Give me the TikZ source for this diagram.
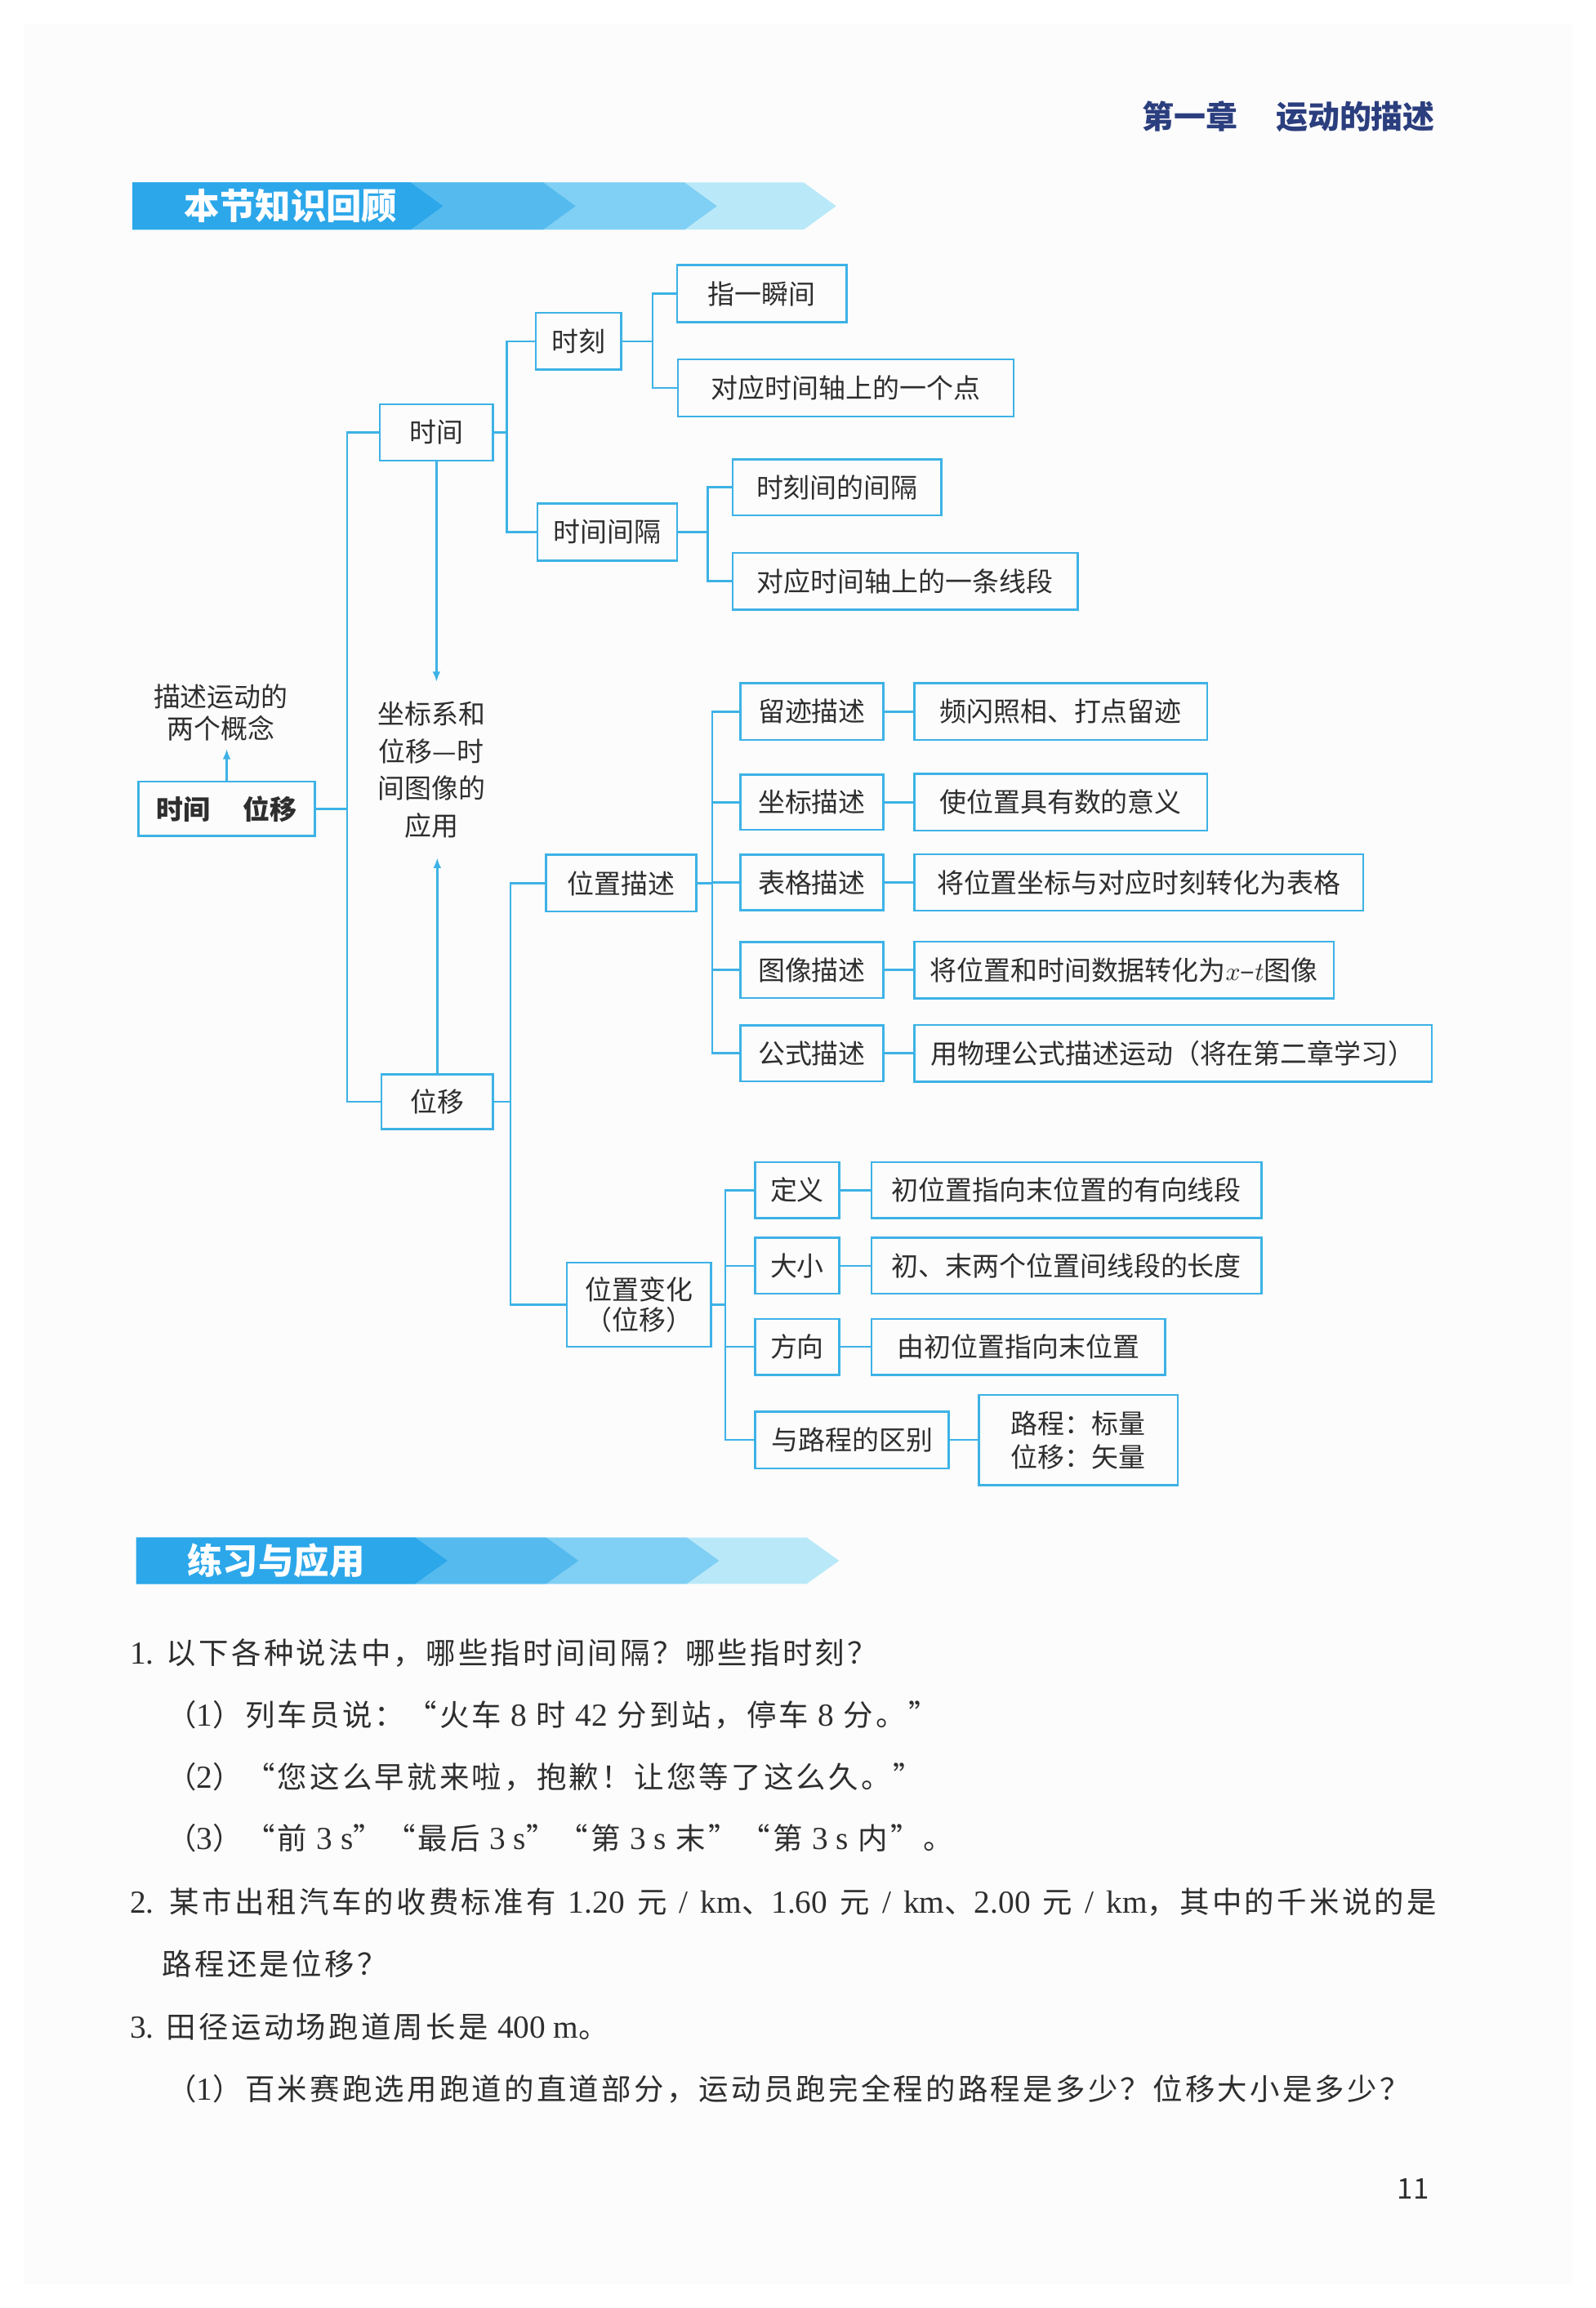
\documentclass[tikz,border=0pt]{standalone}
\usepackage{fontspec}
\setmainfont{Noto Sans CJK SC}
\newfontfamily\uebung[LetterSpace=9]{Noto Sans CJK SC}
\newfontfamily\zahl[Scale=1.08]{Liberation Serif}
\usetikzlibrary{arrows.meta}

\definecolor{linie}{HTML}{3DB2E6}
\definecolor{schrift}{HTML}{2E2E2E}
\definecolor{kopf}{HTML}{2B3E7E}
\definecolor{band1}{HTML}{2CA7EA}
\definecolor{band2}{HTML}{55BBEF}
\definecolor{band3}{HTML}{80CFF4}
\definecolor{band4}{HTML}{B9E9F9}
\definecolor{seite}{HTML}{FCFCFC}

\begin{document}
\begin{tikzpicture}[x=0.02cm, y=-0.02cm,
    kasten/.style={draw=linie, line width=0.8pt, text=schrift, minimum height=0.77cm, inner sep=0pt, align=center, font=\fontsize{10.4pt}{12.5pt}\selectfont},
    ast/.style={draw=linie, line width=0.8pt},
    pfeil/.style={ast, -{Latex[length=1.4mm,width=1.1mm]}},
    aufgabe/.style={anchor=west, inner sep=0pt, text=schrift, font=\uebung\fontsize{11.5pt}{14pt}\selectfont}]
    \useasboundingbox (0,0) rectangle (1084,1568);
    \fill[white] (0,0) rectangle (1084,1568);
    \fill[seite] (16,16) rectangle (1068,1552); % Seite
    % Kopfzeile:
    \node[anchor=east, text=kopf, font=\bfseries\fontsize{12.3pt}{14pt}\selectfont] (kopf) at (981,79) {第一章\hspace{1.2em}运动的描述};
    % erstes Band:
    \fill[band4] (90,124) -- (546,124) -- (568,140) -- (546,156) -- (90,156) -- cycle;
    \fill[band3] (90,124) -- (465,124) -- (487,140) -- (465,156) -- (90,156) -- cycle;
    \fill[band2] (90,124) -- (369,124) -- (391,140) -- (369,156) -- (90,156) -- cycle;
    \fill[band1] (90,124) -- (279,124) -- (301,140) -- (279,156) -- (90,156) -- cycle;
    \node[anchor=west, inner sep=0pt, text=white, font=\bfseries\fontsize{13.7pt}{15pt}\selectfont] (band1text) at (125,140) {本节知识回顾};

    % linke Seite:
    \node[kasten, minimum width=2.4cm, minimum height=0.74cm, font=\bfseries\fontsize{10.4pt}{12.5pt}\selectfont] (begriffe) at (154,549.5) {时间\hspace{1.2em}位移};
    \node[align=center, inner sep=0.1cm, text=schrift, font=\fontsize{10.4pt}{12.5pt}\selectfont] (zweibegriffe) at (150,484) {描述运动的\\两个概念};
    \node[align=center, inner xsep=0pt, inner ysep=0.26cm, text=schrift, font=\fontsize{10.4pt}{14.4pt}\selectfont] (anwendung) at (293,523) {坐标系和\\位移—时\\间图像的\\应用};
    \node[kasten, minimum width=1.54cm] (zeit) at (296.5,293.8) {时间};
    \node[kasten, minimum width=1.52cm, minimum height=0.74cm] (weg) at (297,748.5) {位移};

    % Zeit-Ast:
    \node[kasten, minimum width=1.16cm] (moment) at (393,231.8) {时刻};
    \node[kasten, minimum width=2.3cm, minimum height=0.78cm] (m1) at (517.5,199.5) {指一瞬间};
    \node[kasten, minimum width=4.56cm, minimum height=0.78cm] (m2) at (574.5,263.5) {对应时间轴上的一个点};
    \node[kasten, minimum width=1.9cm, minimum height=0.78cm] (intervall) at (412.5,361.5) {时间间隔};
    \node[kasten, minimum width=2.84cm, minimum height=0.76cm] (i1) at (568.6,331) {时刻间的间隔};
    \node[kasten, minimum width=4.69cm, minimum height=0.77cm] (i2) at (614.8,394.8) {对应时间轴上的一条线段};

    % Ort-Ast:
    \node[kasten, minimum width=2.04cm] (ort) at (422,600) {位置描述};
    \node[kasten, minimum width=1.94cm] (ort1) at (551.5,483.5) {留迹描述};
    \node[kasten, minimum width=3.98cm] (d1) at (720.5,483.5) {频闪照相、打点留迹};
    \node[kasten, minimum width=1.94cm, minimum height=0.75cm] (ort2) at (551.5,545) {坐标描述};
    \node[kasten, minimum width=3.98cm] (d2) at (720.5,545) {使位置具有数的意义};
    \node[kasten, minimum width=1.94cm, minimum height=0.76cm] (ort3) at (551.5,599.5) {表格描述};
    \node[kasten, minimum width=6.1cm] (d3) at (773.5,599.5) {将位置坐标与对应时刻转化为表格};
    \node[kasten, minimum width=1.94cm, minimum height=0.76cm] (ort4) at (551.5,659) {图像描述};
    \node[kasten, minimum width=5.7cm] (d4) at (763.5,659) {将位置和时间数据转化为$x$–$t$图像};
    \node[kasten, minimum width=1.94cm, minimum height=0.76cm] (ort5) at (551.5,715.5) {公式描述};
    \node[kasten, minimum width=7.03cm] (d5) at (796.8,715.5) {用物理公式描述运动（将在第二章学习）};

    % Ortsaenderung:
    \node[kasten, minimum width=1.96cm, minimum height=1.14cm, font=\fontsize{10.4pt}{11.8pt}\selectfont] (aend) at (434,886.4) {位置变化\\（位移）};
    \node[kasten, minimum width=1.14cm, minimum height=0.76cm] (aend1) at (541.5,808.6) {定义};
    \node[kasten, minimum width=5.3cm, minimum height=0.76cm] (e1) at (724.5,808.6) {初位置指向末位置的有向线段};
    \node[kasten, minimum width=1.14cm, minimum height=0.76cm] (aend2) at (541.5,860) {大小};
    \node[kasten, minimum width=5.3cm, minimum height=0.76cm] (e2) at (724.5,860) {初、末两个位置间线段的长度};
    \node[kasten, minimum width=1.14cm, minimum height=0.76cm] (aend3) at (541.5,915) {方向};
    \node[kasten, minimum width=3.99cm, minimum height=0.76cm] (e3) at (691.8,915) {由初位置指向末位置};
    \node[kasten, minimum width=2.63cm, minimum height=0.77cm] (aend4) at (578.8,978.3) {与路程的区别};
    \node[kasten, minimum width=2.7cm, minimum height=1.23cm, font=\fontsize{10.4pt}{13pt}\selectfont] (e4) at (732.5,978.3) {路程：标量\\位移：矢量};

    % Verbindungen:
    \draw[ast] (begriffe.east) -- ++(21,0) |- (zeit.west);
    \draw[ast] (begriffe.east) -- ++(21,0) |- (weg.west);
    \draw[ast] (zeit.east) -- ++(8.5,0) |- (moment.west);
    \draw[ast] (zeit.east) -- ++(8.5,0) |- (intervall.west);
    \draw[ast] (moment.east) -- ++(20.7,0) |- (m1.west);
    \draw[ast] (moment.east) -- ++(20.7,0) |- (m2.west);
    \draw[ast] (intervall.east) -- ++(20,0) |- (i1.west);
    \draw[ast] (intervall.east) -- ++(20,0) |- (i2.west);
    \draw[ast] (weg.east) -- ++(11,0) |- (ort.west);
    \draw[ast] (weg.east) -- ++(11,0) |- (aend.west);
    \draw[ast] (ort.east) -- ++(10,0) |- (ort1.west);
    \draw[ast] (ort.east) -- ++(10,0) |- (ort2.west);
    \draw[ast] (ort.east) -- ++(10,0) |- (ort3.west);
    \draw[ast] (ort.east) -- ++(10,0) |- (ort4.west);
    \draw[ast] (ort.east) -- ++(10,0) |- (ort5.west);
    \draw[ast] (ort1.east) -- (d1.west);
    \draw[ast] (ort2.east) -- (d2.west);
    \draw[ast] (ort3.east) -- (d3.west);
    \draw[ast] (ort4.east) -- (d4.west);
    \draw[ast] (ort5.east) -- (d5.west);
    \draw[ast] (aend.east) -- ++(9,0) |- (aend1.west);
    \draw[ast] (aend.east) -- ++(9,0) |- (aend2.west);
    \draw[ast] (aend.east) -- ++(9,0) |- (aend3.west);
    \draw[ast] (aend.east) -- ++(9,0) |- (aend4.west);
    \draw[ast] (aend1.east) -- (e1.west);
    \draw[ast] (aend2.east) -- (e2.west);
    \draw[ast] (aend3.east) -- (e3.west);
    \draw[ast] (aend4.east) -- (e4.west);
    % Pfeile:
    \draw[pfeil] (begriffe.north) -- (begriffe.north |- zweibegriffe.south);
    \draw[pfeil] (zeit.south) -- (zeit.south |- anwendung.north);
    \draw[pfeil] (weg.north) -- (weg.north |- anwendung.south);

    % zweites Band:
    \fill[band4] (92.6,1044.5) -- (548,1044.5) -- (570,1060.3) -- (548,1076) -- (92.6,1076) -- cycle;
    \fill[band3] (92.6,1044.5) -- (466.5,1044.5) -- (488.5,1060.3) -- (466.5,1076) -- (92.6,1076) -- cycle;
    \fill[band2] (92.6,1044.5) -- (371,1044.5) -- (393,1060.3) -- (371,1076) -- (92.6,1076) -- cycle;
    \fill[band1] (92.6,1044.5) -- (282,1044.5) -- (304,1060.3) -- (282,1076) -- (92.6,1076) -- cycle;
    \node[anchor=west, inner sep=0pt, text=white, font=\bfseries\fontsize{13.7pt}{15pt}\selectfont] (band2text) at (127,1060.3) {练习与应用};

    % Aufgaben:
    \node[aufgabe] (a1) at (88,1123) {{\zahl 1.} 以下各种说法中，哪些指时间间隔？哪些指时刻？};
    \node[aufgabe] (a11) at (113,1165) {（{\zahl 1}）列车员说：“火车 {\zahl 8} 时 {\zahl 42} 分到站，停车 {\zahl 8} 分。”};
    \node[aufgabe] (a12) at (113,1207) {（{\zahl 2}）“您这么早就来啦，抱歉！让您等了这么久。”};
    \node[aufgabe] (a13) at (113,1249) {（{\zahl 3}）“前 {\zahl 3 s}”“最后 {\zahl 3 s}”“第 {\zahl 3 s} 末”“第 {\zahl 3 s} 内”。};
    \node[aufgabe] (a2) at (88,1292) {\spaceskip=4.8pt\relax {\zahl 2.} 某市出租汽车的收费标准有 {\zahl 1.20} 元 {\zahl / km}、{\zahl 1.60} 元 {\zahl / km}、{\zahl 2.00} 元 {\zahl / km}，其中的千米说的是};
    \node[aufgabe] (a2b) at (110,1334) {路程还是位移？};
    \node[aufgabe] (a3) at (88,1377) {{\zahl 3.} 田径运动场跑道周长是 {\zahl 400 m}。};
    \node[aufgabe] (a31) at (113,1419) {（{\zahl 1}）百米赛跑选用跑道的直道部分，运动员跑完全程的路程是多少？位移大小是多少？};
    \node[text=schrift, font=\fontsize{11pt}{13pt}\selectfont] (seitenzahl) at (960,1487) {11};
\end{tikzpicture}
\end{document}
